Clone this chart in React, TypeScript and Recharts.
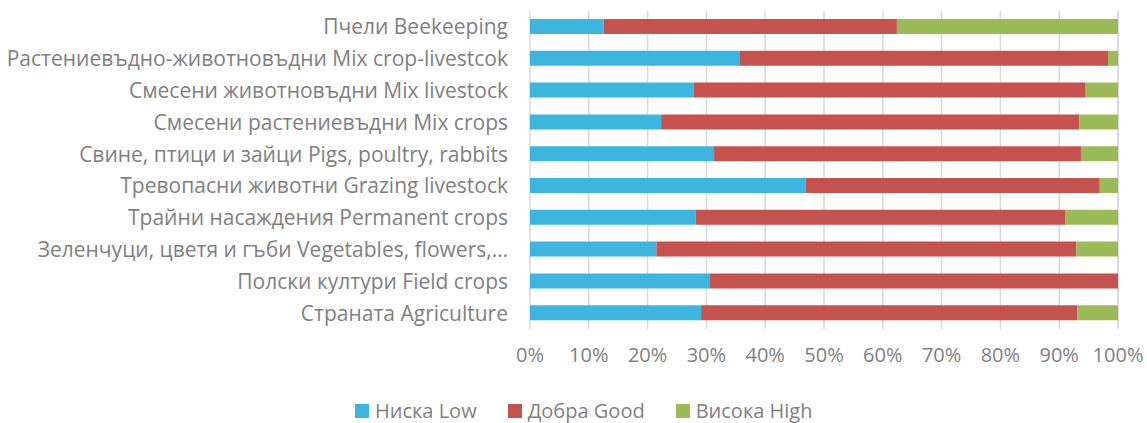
import { BarChart, Bar, XAxis, YAxis, CartesianGrid, Legend } from "recharts";

const categories = [
  "Пчели Beekeeping",
  "Растениевъдно-животновъдни Mix crop-livestcok",
  "Смесени животновъдни Mix livestock",
  "Смесени растениевъдни Mix crops",
  "Свине, птици и зайци Pigs, poultry, rabbits",
  "Тревопасни животни Grazing livestock",
  "Трайни насаждения Permanent crops",
  "Зеленчуци, цветя и гъби Vegetables, flowers,…",
  "Полски култури Field crops",
  "Страната Agriculture",
];

const low = [12.5, 35.6, 27.8, 22.3, 31.3, 46.9, 28.2, 21.5, 30.5, 29.1];
const good = [49.9, 62.7, 66.7, 71.1, 62.4, 50.0, 62.8, 71.4, 69.5, 64.0];
const high = [37.6, 1.7, 5.5, 6.6, 6.3, 3.1, 9.0, 7.1, 0, 6.9];

const ticks = [0, 10, 20, 30, 40, 50, 60, 70, 80, 90, 100];

const series = [
  { key: "low", name: "Ниска Low", color: "#3db5de" },
  { key: "good", name: "Добра Good", color: "#c4524f" },
  { key: "high", name: "Висока High", color: "#9bbb59" },
];

const data = categories.map((name, i) => ({
  name,
  low: low[i],
  good: good[i],
  high: high[i],
}));

const font = "'Open Sans', sans-serif";
const grey = "#7f7f7f";

const LegendContent = () => (
  <div
    style={{
      display: "flex",
      height: 24,
      lineHeight: "24px",
      paddingLeft: 355,
      fontSize: 20,
      color: grey,
      fontFamily: font,
    }}
  >
    {series.map((s) => (
      <div key={s.key} style={{ display: "flex", alignItems: "center", marginRight: 31 }}>
        <span style={{ width: 14, height: 14, background: s.color, marginRight: 6, display: "inline-block" }} />
        <span>{s.name}</span>
      </div>
    ))}
  </div>
);

export default function App() {
  return (
    <div style={{ position: "absolute", left: 0, top: 0, fontFamily: font }}>
      <BarChart
        width={1147}
        height={423}
        data={data}
        layout="vertical"
        barSize={15}
        margin={{ top: 11, right: 29, left: 0, bottom: 0 }}
      >
        <CartesianGrid horizontal={false} stroke="#d9d9d9" strokeWidth={1.5} />
        <XAxis
          type="number"
          domain={[0, 100]}
          ticks={ticks}
          tickFormatter={(v) => `${v}%`}
          axisLine={false}
          tickLine={false}
          tickSize={0}
          tickMargin={19}
          height={70}
          tick={{ fill: grey, fontSize: 20, fontFamily: font }}
          interval={0}
        />
        <YAxis
          type="category"
          dataKey="name"
          width={530}
          axisLine={false}
          tickLine={false}
          tickSize={0}
          tickMargin={22}
          interval={0}
          tick={{ fill: grey, fontSize: 21, fontFamily: font }}
        />
        <Legend
          verticalAlign="bottom"
          wrapperStyle={{ left: 0, width: 1147 }}
          content={() => <LegendContent />}
        />
        {series.map((s) => (
          <Bar
            key={s.key}
            dataKey={s.key}
            name={s.name}
            stackId="a"
            fill={s.color}
            isAnimationActive={false}
          />
        ))}
      </BarChart>
    </div>
  );
}
